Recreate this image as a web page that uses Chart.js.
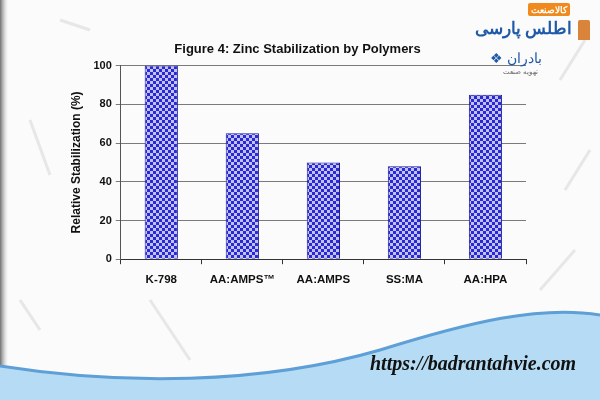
<!DOCTYPE html>
<html>
<head>
<meta charset="utf-8">
<script src="https://cdn.jsdelivr.net/npm/chart.js@4.4.1/dist/chart.umd.min.js"></script>
<style>
  html, body { margin: 0; padding: 0; background: #fbfbfb; }
  #wrap { position: relative; width: 600px; height: 400px; overflow: hidden; }
  #c { position: absolute; left: 0; top: 0; }
  .url { position: absolute; left: 370px; top: 352px; font: italic bold 20px "Liberation Serif", "DejaVu Serif", serif; color: #111; }
  .logo1 { position: absolute; right: 28px; top: 16px; font: bold 17px "Noto Sans", sans-serif; color: #1e5aa8; direction: rtl; }
  .tower { position: absolute; right: 10px; top: 20px; width: 12px; height: 20px; background: #d9843a; border-radius: 2px 2px 0 0; }
  .badge { position: absolute; right: 30px; top: 3px; background: #f08a1c; color: #fff; font: bold 9px "Noto Sans", sans-serif; padding: 0 3px; border-radius: 2px; direction: rtl; }
  .logo2 { position: absolute; right: 58px; top: 48px; font: 14px "Noto Sans", sans-serif; color: #1e5aa8; direction: rtl; }
  .logo3 { position: absolute; right: 62px; top: 67px; font: 7px "Noto Sans", sans-serif; color: #666; direction: rtl; }
</style>
</head>
<body>
<div id="wrap">
  <canvas id="c" width="600" height="400"></canvas>
  <div class="badge">کالاصنعت</div>
  <div class="tower"></div>
  <div class="logo1">اطلس پارسی</div>
  <div class="logo2">بادران ❖</div>
  <div class="logo3">تهویه صنعت</div>
  <div class="url">https://badrantahvie.com</div>
</div>
<script>
// ===== Figure 4: Zinc Stabilization by Polymers =====
const POLYMERS = ['K-798', 'AA:AMPS™', 'AA:AMPS', 'SS:MA', 'AA:HPA'];
const STABILIZATION = [100, 65, 50, 48, 85];
const Y_TICKS = [0, 20, 40, 60, 80, 100];

// checkerboard fill like the old Excel pattern
function checker() {
    const p = document.createElement('canvas');
    p.width = 6; p.height = 6;
    const g = p.getContext('2d');
    g.fillStyle = '#c0c0ff';
    g.fillRect(0, 0, 6, 6);
    g.fillStyle = '#2a2ad0';
    g.fillRect(0, 0, 3, 3);
    g.fillRect(3, 3, 3, 3);
    return g.createPattern(p, 'repeat');
}

// slide background: left stripe, scratches, blue wave at the bottom
const slideBg = {
    id: 'slideBg',
    beforeDraw(chart) {
        const ctx = chart.ctx;
        ctx.save();
        ctx.fillStyle = '#fbfbfb';
        ctx.fillRect(0, 0, 600, 400);

        const lg = ctx.createLinearGradient(0, 0, 8, 0);
        lg.addColorStop(0, '#707070');
        lg.addColorStop(1, 'rgba(200,200,200,0)');
        ctx.fillStyle = lg;
        ctx.fillRect(0, 0, 8, 400);

        ctx.strokeStyle = 'rgba(170,170,170,0.25)';
        ctx.lineWidth = 3;
        [[30, 120, 50, 175], [20, 300, 40, 330], [150, 300, 190, 360], [560, 80, 585, 40], [565, 190, 590, 150], [540, 290, 575, 250], [60, 20, 90, 30]].forEach(s => {
            ctx.beginPath(); ctx.moveTo(s[0], s[1]); ctx.lineTo(s[2], s[3]); ctx.stroke();
        });

        const wave = () => {
            ctx.beginPath();
            ctx.moveTo(0, 366);
            ctx.bezierCurveTo(120, 385, 260, 385, 380, 350);
            ctx.bezierCurveTo(470, 322, 540, 305, 600, 315);
        };
        wave();
        ctx.lineTo(600, 400);
        ctx.lineTo(0, 400);
        ctx.closePath();
        ctx.fillStyle = '#b5dcf4';
        ctx.fill();
        ctx.strokeStyle = '#5d9fd6';
        ctx.lineWidth = 3;
        wave();
        ctx.stroke();
        ctx.restore();
    }
};

const ctx = document.getElementById('c').getContext('2d');
const font = { family: 'Arial, "Liberation Sans", sans-serif', weight: 'bold', size: 11 };

new Chart(ctx, {
    type: 'bar',
    data: {
        labels: POLYMERS,
        datasets: [{
            data: STABILIZATION,
            backgroundColor: checker(),
            borderColor: '#1c1c9a',
            borderWidth: 1,
            categoryPercentage: 1,
            barPercentage: 0.41
        }]
    },
    options: {
        responsive: false, animation: false,
        layout: { padding: { left: 69, right: 74, top: 42, bottom: 104 } },
        scales: {
            x: {
                grid: { drawOnChartArea: false, color: '#333', tickLength: 5 },
                border: { color: '#333' },
                ticks: { color: '#111', font: { ...font, size: 11.5 }, padding: 9 }
            },
            y: {
                min: 0, max: 100,
                afterBuildTicks: s => { s.ticks = Y_TICKS.map(v => ({ value: v })); },
                grid: { color: '#7a7a7a', tickLength: 5 },
                border: { color: '#555' },
                ticks: { color: '#111', font, padding: 4 },
                title: { display: true, text: 'Relative Stabilization (%)', color: '#111', font: { ...font, size: 12 }, padding: { top: 0, bottom: 6 } }
            }
        },
        plugins: {
            legend: { display: false },
            tooltip: { enabled: false },
            title: {
                display: true, text: 'Figure 4: Zinc Stabilization by Polymers',
                color: '#111', font: { family: font.family, weight: 'bold', size: 13 },
                padding: { top: 0, bottom: 8 }
            }
        }
    },
    plugins: [slideBg]
});
</script>
</body>
</html>
